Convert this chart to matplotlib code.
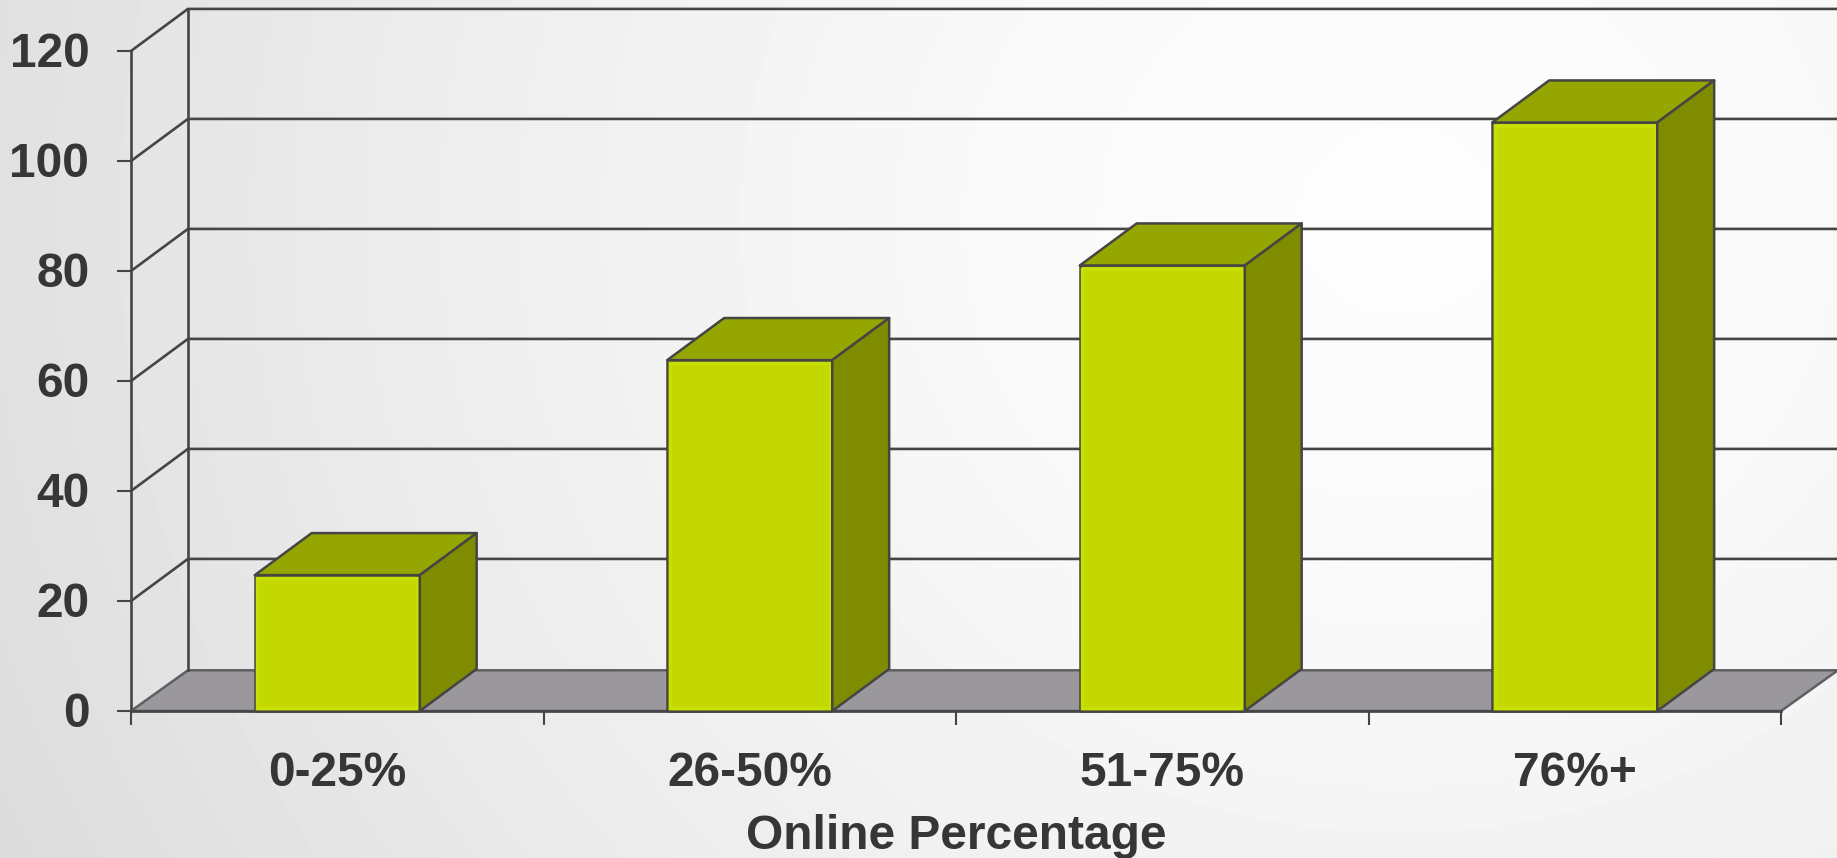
import numpy as np
import matplotlib
matplotlib.use("Agg")
import matplotlib.pyplot as plt
from matplotlib.patches import Polygon
from matplotlib.transforms import ScaledTranslation

plt.rcParams["font.family"] = "Liberation Sans"

# Values
categories = ["0-25%", "26-50%", "51-75%", "76%+"]
values = [24.7, 63.8, 81.0, 107.0]
y_ticks = [0, 20, 40, 60, 80, 100, 120]
x_label = "Online Percentage"

# Colours
TEXT = "#363636"
LINE = "#454545"
FRONT = "#c2d800"
FRONT_RIM = "#c7e000"
TOP = "#96a600"
SIDE = "#7f8c00"
FLOOR = "#9a989c"

# 3D offset of the box, in data units
DEPTH_X = 0.138
DEPTH_Y = 7.65
FLOOR_DEPTH_Y = 7.4
BAR_WIDTH = 0.4

W, H = 1837, 858


# Soft grey background, brightest towards the upper right
def draw_background(fig):
    bg = fig.add_axes([0, 0, 1, 1], zorder=0)
    yy, xx = np.mgrid[0:H, 0:W]
    dist = np.hypot((xx - 1400) / 1400, (yy - 220) / 1300)
    shade = 0.99 - 0.11 * np.clip(dist, 0, 1.3) ** 1.6
    bg.imshow(shade, cmap="gray", vmin=0, vmax=1, aspect="auto")
    bg.axis("off")


def add_box(ax, x, value):
    left = x - BAR_WIDTH / 2
    right = x + BAR_WIDTH / 2
    style = dict(edgecolor=LINE, linewidth=1.8, joinstyle="round", clip_on=False, zorder=5)
    ax.add_patch(Polygon([(left, 0), (right, 0), (right, value), (left, value)],
                         facecolor=FRONT, **style))
    # Slightly brighter rim just inside the front face
    ax.add_patch(Polygon([(left + 0.006, 0.6), (right - 0.006, 0.6),
                          (right - 0.006, value - 0.6), (left + 0.006, value - 0.6)],
                         facecolor="none", edgecolor=FRONT_RIM, linewidth=2.5, zorder=5))
    ax.add_patch(Polygon([(left, value), (right, value),
                          (right + DEPTH_X, value + DEPTH_Y), (left + DEPTH_X, value + DEPTH_Y)],
                         facecolor=TOP, **style))
    ax.add_patch(Polygon([(right, 0), (right + DEPTH_X, DEPTH_Y),
                          (right + DEPTH_X, value + DEPTH_Y), (right, value)],
                         facecolor=SIDE, **style))


def main():
    fig = plt.figure(figsize=(W / 100, H / 100), dpi=100)
    draw_background(fig)

    ax = fig.add_axes([131 / W, (H - 711) / H, 1650 / W, 660 / H], zorder=1)
    ax.patch.set_alpha(0)
    n = len(categories)
    ax.set_xlim(0, n)
    ax.set_ylim(0, y_ticks[-1])

    # Floor of the box
    ax.add_patch(Polygon([(0, 0), (n, 0), (n + DEPTH_X, FLOOR_DEPTH_Y), (DEPTH_X, FLOOR_DEPTH_Y)],
                         facecolor=FLOOR, edgecolor="#5f5f63", linewidth=1.8,
                         clip_on=False, zorder=1))

    # Gridlines run up the side wall and across the back wall
    for t in y_ticks[1:]:
        ax.plot([0, DEPTH_X, n + DEPTH_X], [t, t + DEPTH_Y, t + DEPTH_Y],
                color=LINE, linewidth=1.9, clip_on=False, zorder=2)
    ax.plot([DEPTH_X, DEPTH_X], [FLOOR_DEPTH_Y, y_ticks[-1] + DEPTH_Y],
            color=LINE, linewidth=1.9, clip_on=False, zorder=2)

    for i, v in enumerate(values):
        add_box(ax, i + 0.5, v)

    for side in ["top", "right"]:
        ax.spines[side].set_visible(False)
    for side in ["left", "bottom"]:
        ax.spines[side].set_color(LINE)
        ax.spines[side].set_linewidth(1.9)

    ax.set_yticks(y_ticks)
    ax.set_xticks(range(n + 1))
    ax.set_xticks([i + 0.5 for i in range(n)], labels=categories, minor=True)
    ax.set_xticklabels([])
    ax.tick_params(axis="y", length=10, width=1.5, color=LINE, pad=20,
                   labelsize=34.5, labelcolor=TEXT)
    ax.tick_params(axis="x", which="major", length=10, width=1.5, color=LINE)
    ax.tick_params(axis="x", which="minor", length=0, pad=28.7, labelsize=34.5, labelcolor=TEXT)
    for label in ax.get_yticklabels() + ax.get_xticklabels(minor=True):
        label.set_fontweight("bold")
    # y labels sit a touch above their ticks
    for label in ax.get_yticklabels():
        label.set_transform(label.get_transform() + ScaledTranslation(0, 1 / 72, fig.dpi_scale_trans))

    ax.set_xlabel(x_label, fontsize=34.5, fontweight="bold", color=TEXT, labelpad=13)

    fig.savefig("out.png", dpi=100)


if __name__ == "__main__":
    main()
